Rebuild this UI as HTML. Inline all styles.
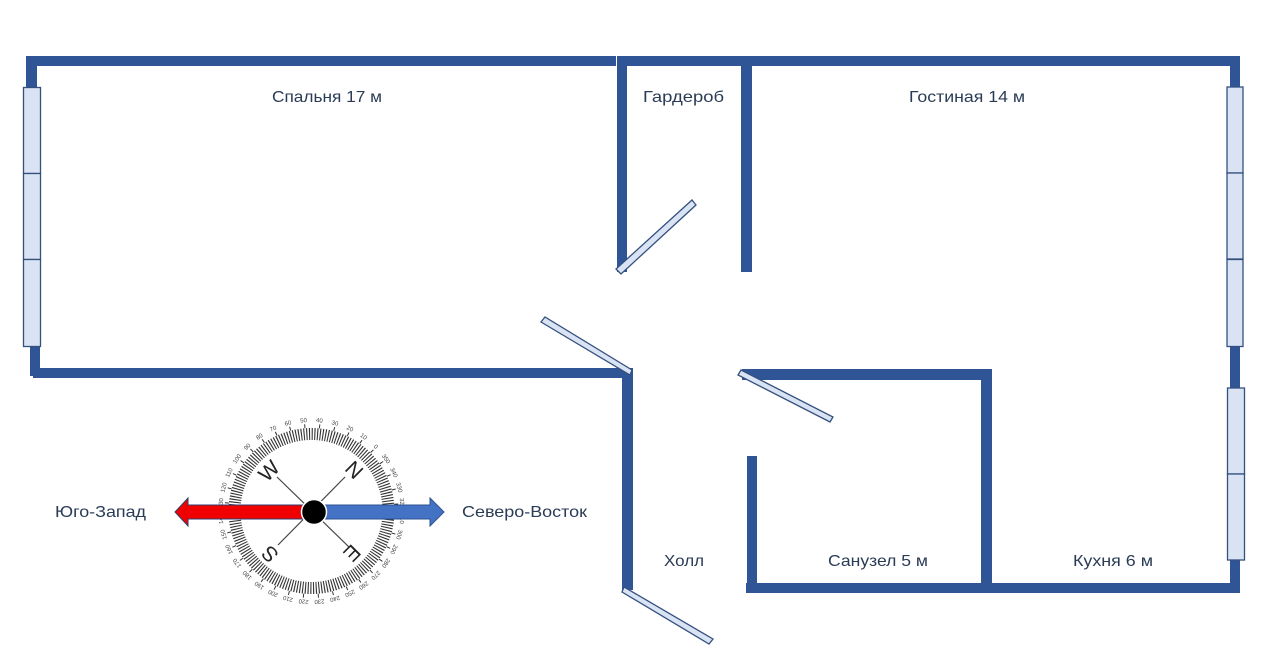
<!DOCTYPE html>
<html lang="ru">
<head>
<meta charset="utf-8">
<title>Floor plan</title>
<style>
html,body{margin:0;padding:0;background:#fff;width:1280px;height:672px;overflow:hidden}
svg{display:block}
.l{font-family:"Liberation Sans","DejaVu Sans",sans-serif;font-size:16px;fill:#2a3b55}
.d{font-family:"Liberation Sans",sans-serif;font-size:6px;fill:#444;text-anchor:middle}
.c{font-family:"Liberation Sans",sans-serif;font-size:21px;fill:#222;text-anchor:middle}
</style>
</head>
<body>
<svg width="1280" height="672" viewBox="0 0 1280 672" xmlns="http://www.w3.org/2000/svg">
<rect width="1280" height="672" fill="#fff"/>
<!-- walls -->
<g fill="#2f5597">
<rect x="26" y="56" width="590" height="10"/>
<rect x="26" y="56" width="11" height="32"/>
<rect x="30" y="346" width="10" height="30"/>
<rect x="33" y="368" width="599" height="10"/>
<rect x="618" y="56" width="622" height="10"/>
<rect x="617" y="56" width="10" height="216"/>
<rect x="741" y="56" width="11" height="216"/>
<rect x="1230" y="56" width="10" height="32"/>
<rect x="1230" y="346" width="10" height="43"/>
<rect x="1230" y="560" width="10" height="33"/>
<rect x="622" y="368" width="11" height="222"/>
<rect x="742" y="369" width="250" height="11"/>
<rect x="981" y="369" width="11" height="218"/>
<rect x="747" y="456" width="10" height="134"/>
<rect x="746" y="583" width="494" height="10"/>
</g>
<!-- windows -->
<g fill="#dae3f3" stroke="#34507f" stroke-width="1.3">
<rect x="23.500" y="87.500" width="17" height="86"/>
<rect x="23.500" y="173.500" width="17" height="86"/>
<rect x="23.500" y="259.500" width="17" height="87"/>
<rect x="1227" y="87" width="16" height="86"/>
<rect x="1227" y="173" width="16" height="86"/>
<rect x="1227" y="259.500" width="16" height="87"/>
<rect x="1227.500" y="388" width="17" height="86"/>
<rect x="1227.500" y="474" width="17" height="86"/>
<!-- doors -->
<polygon points="616,269 621,274 696,205 692,200"/>
<polygon points="541,322 545,317 632,370 630,375"/>
<polygon points="741,370 738,375 830,422 833,417"/>
<polygon points="624,587 622,592 709,644 713,639"/>
</g>
<!-- room labels -->
<text class="l" x="272" y="102" textLength="110" lengthAdjust="spacingAndGlyphs">Спальня 17 м</text>
<text class="l" x="643" y="102" textLength="81" lengthAdjust="spacingAndGlyphs">Гардероб</text>
<text class="l" x="909" y="102" textLength="116" lengthAdjust="spacingAndGlyphs">Гостиная 14 м</text>
<text class="l" x="664" y="566" textLength="40" lengthAdjust="spacingAndGlyphs">Холл</text>
<text class="l" x="828" y="566" textLength="100" lengthAdjust="spacingAndGlyphs">Санузел 5 м</text>
<text class="l" x="1073" y="566" textLength="80" lengthAdjust="spacingAndGlyphs">Кухня 6 м</text>
<text class="l" x="55" y="517" textLength="91" lengthAdjust="spacingAndGlyphs">Юго-Запад</text>
<text class="l" x="462" y="517" textLength="125" lengthAdjust="spacingAndGlyphs">Северо-Восток</text>
<!-- compass -->
<g fill="none" stroke="#333">
<circle cx="311.500" cy="511" r="77" stroke-width="12" stroke-dasharray="1.1 1.588"/>
<circle cx="311.500" cy="511" r="85" stroke-width="4" stroke-dasharray="1 13.836" transform="rotate(-45 311.500 511)"/>
</g>
<g stroke="#444" stroke-width="1.2">
<line x1="277" y1="477" x2="349" y2="547"/>
<line x1="345" y1="477" x2="278" y2="545"/>
</g>
<g>
<text class="d" x="311.500" y="422" transform="rotate(45 311.500 511)">0</text>
<text class="d" x="311.500" y="422" transform="rotate(35 311.500 511)">10</text>
<text class="d" x="311.500" y="422" transform="rotate(25 311.500 511)">20</text>
<text class="d" x="311.500" y="422" transform="rotate(15 311.500 511)">30</text>
<text class="d" x="311.500" y="422" transform="rotate(5 311.500 511)">40</text>
<text class="d" x="311.500" y="422" transform="rotate(-5 311.500 511)">50</text>
<text class="d" x="311.500" y="422" transform="rotate(-15 311.500 511)">60</text>
<text class="d" x="311.500" y="422" transform="rotate(-25 311.500 511)">70</text>
<text class="d" x="311.500" y="422" transform="rotate(-35 311.500 511)">80</text>
<text class="d" x="311.500" y="422" transform="rotate(-45 311.500 511)">90</text>
<text class="d" x="311.500" y="422" transform="rotate(-55 311.500 511)">100</text>
<text class="d" x="311.500" y="422" transform="rotate(-65 311.500 511)">110</text>
<text class="d" x="311.500" y="422" transform="rotate(-75 311.500 511)">120</text>
<text class="d" x="311.500" y="422" transform="rotate(-85 311.500 511)">130</text>
<text class="d" x="311.500" y="422" transform="rotate(-95 311.500 511)">140</text>
<text class="d" x="311.500" y="422" transform="rotate(-105 311.500 511)">150</text>
<text class="d" x="311.500" y="422" transform="rotate(-115 311.500 511)">160</text>
<text class="d" x="311.500" y="422" transform="rotate(-125 311.500 511)">170</text>
<text class="d" x="311.500" y="422" transform="rotate(-135 311.500 511)">180</text>
<text class="d" x="311.500" y="422" transform="rotate(-145 311.500 511)">190</text>
<text class="d" x="311.500" y="422" transform="rotate(-155 311.500 511)">200</text>
<text class="d" x="311.500" y="422" transform="rotate(-165 311.500 511)">210</text>
<text class="d" x="311.500" y="422" transform="rotate(-175 311.500 511)">220</text>
<text class="d" x="311.500" y="422" transform="rotate(175 311.500 511)">230</text>
<text class="d" x="311.500" y="422" transform="rotate(165 311.500 511)">240</text>
<text class="d" x="311.500" y="422" transform="rotate(155 311.500 511)">250</text>
<text class="d" x="311.500" y="422" transform="rotate(145 311.500 511)">260</text>
<text class="d" x="311.500" y="422" transform="rotate(135 311.500 511)">270</text>
<text class="d" x="311.500" y="422" transform="rotate(125 311.500 511)">280</text>
<text class="d" x="311.500" y="422" transform="rotate(115 311.500 511)">290</text>
<text class="d" x="311.500" y="422" transform="rotate(105 311.500 511)">300</text>
<text class="d" x="311.500" y="422" transform="rotate(95 311.500 511)">310</text>
<text class="d" x="311.500" y="422" transform="rotate(85 311.500 511)">320</text>
<text class="d" x="311.500" y="422" transform="rotate(75 311.500 511)">330</text>
<text class="d" x="311.500" y="422" transform="rotate(65 311.500 511)">340</text>
<text class="d" x="311.500" y="422" transform="rotate(55 311.500 511)">350</text>
</g>
<text class="c" x="0" y="7" transform="translate(269 471) rotate(-45)">W</text>
<text class="c" x="0" y="7" transform="translate(354 470) rotate(45)">N</text>
<text class="c" x="0" y="7" transform="translate(270 554) rotate(-135)">S</text>
<text class="c" x="0" y="7" transform="translate(352 553) rotate(135)">E</text>
<!-- arrows -->
<polygon points="175,512 188,498 188,505 304,505 304,519 188,519 188,526" fill="#f00000" stroke="#2f3f70" stroke-width="1"/>
<polygon points="444,512 430,498 430,505 322,505 322,519 430,519 430,526" fill="#4472c4" stroke="#2f528f" stroke-width="1"/>
<circle cx="314" cy="512" r="12.500" fill="#000" stroke="#fff" stroke-width="1.500"/>
</svg>
</body>
</html>
